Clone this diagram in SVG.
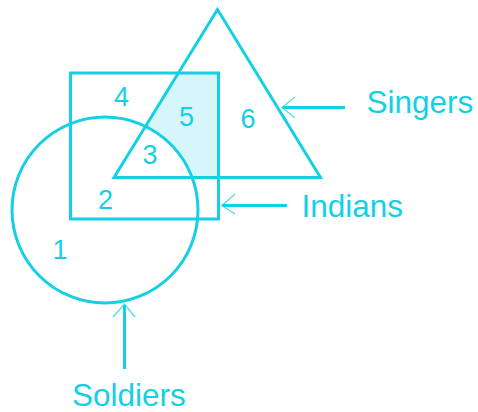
<svg xmlns="http://www.w3.org/2000/svg" width="478" height="412" viewBox="0 0 478 412">
  <style>
    .shape { fill: none; stroke: #14d0e4; stroke-width: 3; }
    .line { stroke: #14d0e4; stroke-width: 3; fill: none; }
    .head { stroke: #14d0e4; stroke-width: 1.3; fill: none; stroke-opacity: 0.75; }
    .num { font-family: "Liberation Sans", Arial, sans-serif; font-size: 27px; fill: #14d0e4; text-anchor: middle; }
    .lbl { font-family: "Liberation Sans", Arial, sans-serif; font-size: 31.5px; fill: #14d0e4; }
  </style>
  <defs>
    <clipPath id="rectClip">
      <rect x="70.5" y="73" width="148" height="146"/>
    </clipPath>
    <mask id="outsideCircle">
      <rect x="0" y="0" width="478" height="412" fill="#fff"/>
      <circle cx="105" cy="210" r="93" fill="#000"/>
    </mask>
  </defs>
  <rect width="478" height="412" fill="#fff"/>
  <g id="shaded-region">
    <g clip-path="url(#rectClip)">
      <polygon points="217.5,9.5 114,177.5 320.5,177.5" fill="#d6f6fa" mask="url(#outsideCircle)"/>
    </g>
  </g>
  <g id="indians">
    <rect class="shape" x="70.5" y="73" width="148" height="146"/>
  </g>
  <g id="singers">
    <polygon class="shape" points="217.5,9.5 114,177.5 320.5,177.5" stroke-linejoin="miter"/>
  </g>
  <g id="soldiers">
    <circle class="shape" cx="105" cy="210" r="93"/>
  </g>
  <g id="regions">
    <text class="num" x="121.5" y="106">4</text>
    <text class="num" x="186.5" y="126">5</text>
    <text class="num" x="248" y="128">6</text>
    <text class="num" x="150" y="164">3</text>
    <text class="num" x="105.5" y="209">2</text>
    <text class="num" x="60" y="259">1</text>
  </g>
  <g id="connectors">
    <line class="line" x1="345" y1="107.5" x2="283" y2="107.5"/>
    <polyline class="head" points="295,97 282,107.5 295,118"/>
    <line class="line" x1="287" y1="205.5" x2="222" y2="205.5"/>
    <polyline class="head" points="235,194 222,205.5 235,214"/>
    <line class="line" x1="124.5" y1="369" x2="124.5" y2="305"/>
    <polyline class="head" points="113,317 124.5,304 135,317"/>
  </g>
  <g id="labels">
    <text class="lbl" x="366.5" y="113">Singers</text>
    <text class="lbl" x="301.5" y="216.5">Indians</text>
    <text class="lbl" x="72" y="406">Soldiers</text>
  </g>
</svg>
